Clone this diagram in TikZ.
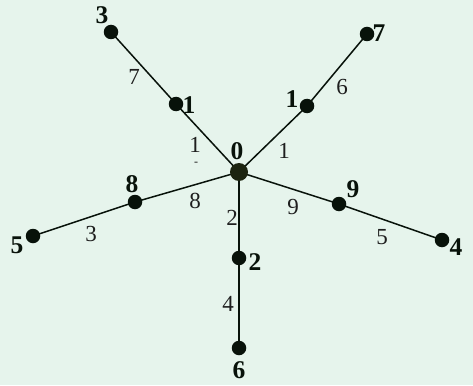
\documentclass[tikz,border=0pt]{standalone}
\usepackage{fontspec}
\setmainfont{Liberation Serif}
\definecolor{bgc}{RGB}{230,244,236}
\definecolor{ink}{RGB}{8,18,10}
\definecolor{hubc}{RGB}{28,36,16}
\definecolor{wtc}{RGB}{30,30,30}
\begin{document}
\begin{tikzpicture}[x=1pt,y=-1pt,
  vdot/.style={circle,fill=ink,inner sep=0pt,minimum size=14.5pt},
  hubdot/.style={circle,fill=hubc,inner sep=0pt,minimum size=18pt},
  vlab/.style={inner sep=0pt,font=\fontsize{25.5}{25.5}\selectfont\bfseries,text=ink},
  wlab/.style={inner sep=0pt,font=\fontsize{23}{23}\selectfont,text=wtc},
  edge/.style={draw=ink,line width=1.5pt}]
\fill[bgc] (0,0) rectangle (473,385);
\useasboundingbox (0,0) rectangle (473,385);
% vertex positions
\coordinate (v0) at (239,172);
\coordinate (v3) at (111,32);
\coordinate (v1a) at (176,104);
\coordinate (v1b) at (307,106);
\coordinate (v7) at (367,34);
\coordinate (v8) at (135,202);
\coordinate (v5) at (33,236);
\coordinate (v9) at (339,204);
\coordinate (v4) at (442,240);
\coordinate (v2) at (239,258);
\coordinate (v6) at (239,348);
% edges
\draw[edge] (v0) -- (v1a) -- (v3);
\draw[edge] (v0) -- (v1b) -- (v7);
\draw[edge] (v0) -- (v8) -- (v5);
\draw[edge] (v0) -- (v9) -- (v4);
\draw[edge] (v0) -- (v2) -- (v6);
% dots
\node[hubdot] (d0) at (v0) {};
\foreach \v in {v3,v1a,v1b,v7,v8,v5,v9,v4,v2,v6} \node[vdot] (d\v) at (\v) {};
% vertex labels
\node[vlab] (l0) at (237,151) {0};
\node[vlab] (l3) at (102,15) {3};
\node[vlab] (l1a) at (189,105) {1};
\node[vlab] (l1b) at (292,99) {1};
\node[vlab] (l7) at (379,33) {7};
\node[vlab] (l8) at (132,184) {8};
\node[vlab] (l5) at (17,245) {5};
\node[vlab] (l9) at (353,189) {9};
\node[vlab] (l4) at (456,247) {4};
\node[vlab] (l2) at (255,262) {2};
\node[vlab] (l6) at (239,370) {6};
% edge weights
\node[wlab] (w7) at (134,77) {7};
\node[wlab] (w1a) at (195,145) {1};
\node[wlab,font=\fontsize{12}{12}\selectfont] (wd) at (196,164) {-};
\node[wlab] (w1b) at (284,151) {1};
\node[wlab] (w6) at (342,87) {6};
\node[wlab] (w8) at (195,201) {8};
\node[wlab] (w3) at (91,234) {3};
\node[wlab] (w2) at (232,218) {2};
\node[wlab] (w9) at (293,207) {9};
\node[wlab] (w5) at (382,237) {5};
\node[wlab] (w4) at (228,304) {4};
\end{tikzpicture}
\end{document}
